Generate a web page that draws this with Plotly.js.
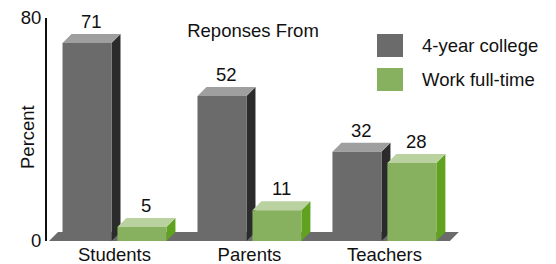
<!DOCTYPE html>
<html><head><meta charset="utf-8">
<script src="https://cdn.plot.ly/plotly-3.0.1.min.js"></script>
<style>html,body{margin:0;padding:0;background:#fff}</style>
</head><body><div id="chart" style="width:556px;height:264px"></div>
<script>
// ---- data ----
const categories = ["Students", "Parents", "Teachers"];
const seriesNames = ["4-year college", "Work full-time"];
const college = [71, 52, 32];
const workFullTime = [5, 11, 28];
const yTicks = [0, 80];
const titleText = "Reponses From";
const yTitleText = "Percent";

// ---- layout constants ----
const W = 556, H = 264, M = {l: 47, r: 96, t: 18, b: 23};
const xRange = [-0.5, 2.56], yRange = [0, 80];
const pxPerX = (W - M.l - M.r) / (xRange[1] - xRange[0]);
const pxPerY = (H - M.t - M.b) / (yRange[1] - yRange[0]);
const depthPx = 9;
const dx = depthPx / pxPerX, dy = depthPx / pxPerY;
const barW = 0.363;
const offsets = [-0.385, 0.022];
const styles = [
  {front: '#6b6b6b', top: '#9f9f9f', side: '#2b2b2b'},
  {front: '#87b05f', top: '#bad1a0', side: '#60a220'}
];
const FONT = 'Liberation Sans, Arial, sans-serif';
const FS = 18.5;
const series = [college, workFullTime];
const xs = categories.map((c, i) => i);

const traces = series.map((vals, s) => ({
  type: 'bar', x: xs, y: vals, name: seriesNames[s],
  width: barW, offset: offsets[s],
  marker: {color: styles[s].front, line: {width: 0}},
  showlegend: false, hoverinfo: 'skip'
}));

const shapes = [];
// floor
const floorL = -0.485, floorR = 2.485;
shapes.push({type: 'path', xref: 'x', yref: 'y', layer: 'below',
  path: `M ${floorL},0 L ${floorR},0 L ${floorR + dx},${dy} L ${floorL + dx},${dy} Z`,
  fillcolor: '#6b6b6b', line: {width: 0}});
const annotations = [];
series.forEach((vals, s) => {
  vals.forEach((v, i) => {
    const x0 = xs[i] + offsets[s], x1 = x0 + barW;
    shapes.push({type: 'path', xref: 'x', yref: 'y', layer: 'below',
      path: `M ${x1},0 L ${x1 + dx},${dy} L ${x1 + dx},${v + dy} L ${x1},${v} Z`,
      fillcolor: styles[s].side, line: {width: 0}});
    shapes.push({type: 'path', xref: 'x', yref: 'y', layer: 'below',
      path: `M ${x0},${v} L ${x1},${v} L ${x1 + dx},${v + dy} L ${x0 + dx},${v + dy} Z`,
      fillcolor: styles[s].top, line: {width: 0}});
    annotations.push({xref: 'x', yref: 'y', x: x0 + barW / 2 + dx / 2, y: v + dy,
      text: String(v), showarrow: false, yanchor: 'bottom', xanchor: 'center',
      font: {size: FS, color: '#111', family: FONT}});
  });
});

// manual legend
const pw = W - M.l - M.r, ph = H - M.t - M.b;
const px = p => (p - M.l) / pw, py = p => 1 - (p - M.t) / ph;
const legRows = [[34, 57], [68, 91]];
seriesNames.forEach((n, s) => {
  const [t, b] = legRows[s];
  shapes.push({type: 'rect', xref: 'paper', yref: 'paper',
    x0: px(377), x1: px(403), y0: py(b), y1: py(t),
    fillcolor: styles[s].front, line: {width: 0}});
  annotations.push({xref: 'paper', yref: 'paper', x: px(420), y: py((t + b) / 2),
    text: n, showarrow: false, xanchor: 'left', yanchor: 'middle',
    font: {size: FS, color: '#111', family: FONT}});
});
// y title
annotations.push({xref: 'paper', yref: 'paper', x: px(27), y: py(137),
  text: yTitleText, textangle: -90, showarrow: false, xanchor: 'center', yanchor: 'middle',
  font: {size: FS, color: '#111', family: FONT}});

const layout = {
  width: W, height: H, margin: M,
  paper_bgcolor: '#fff', plot_bgcolor: '#fff',
  font: {family: FONT, size: FS, color: '#111'},
  title: {text: titleText, x: 253 / W, xanchor: 'center', y: 1 - 31 / H, yanchor: 'middle',
    font: {size: FS, color: '#111', family: FONT}},
  xaxis: {range: xRange, tickvals: xs, ticktext: categories, showgrid: false,
    zeroline: false, showline: false, ticks: '', tickfont: {size: FS}},
  yaxis: {range: yRange, tickvals: yTicks, showgrid: false, zeroline: false,
    showline: true, linecolor: '#111', linewidth: 2, ticks: '', tickfont: {size: FS}},
  shapes: shapes, annotations: annotations, showlegend: false
};
Plotly.newPlot('chart', traces, layout, {staticPlot: true});
</script></body></html>
